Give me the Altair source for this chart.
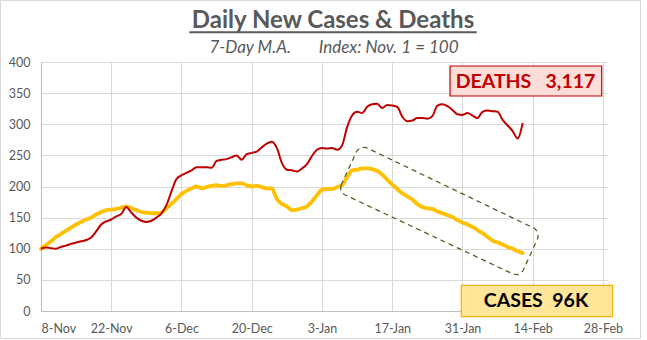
import altair as alt
import pandas as pd

# ---------------- data ----------------
START = "2020-11-08"
deaths = [100, 102, 101, 100, 103, 105, 108, 110, 112, 114,
          118, 128, 139, 144, 147, 152, 156, 167, 158, 150,
          145, 143, 145, 150, 157, 170, 192, 212, 218, 222,
          226, 231, 231, 231, 230, 241, 243, 244, 247, 250,
          243, 252, 254, 256, 263, 269, 272, 262, 238, 227,
          226, 224, 229, 236, 249, 259, 262, 261, 262, 259,
          266, 295, 314, 320, 318, 328, 332, 333, 326, 331,
          330, 328, 312, 305, 306, 310, 310, 309, 313, 330,
          332, 329, 323, 316, 315, 318, 314, 310, 320, 322,
          321, 320, 307, 298, 289, 277, 302]
cases = [100, 106, 112, 119, 124, 129, 134, 139, 143, 147,
         150, 155, 159, 162, 163, 164, 166, 168, 165, 162,
         159, 158, 157, 157, 158, 165, 172, 180, 188, 193,
         197, 200, 197, 199, 201, 202, 201, 202, 204, 205,
         205, 202, 200, 201, 199, 197, 197, 180, 172, 168,
         162, 163, 165, 168, 176, 186, 195, 196, 196, 199,
         202, 215, 226, 227, 229, 229, 228, 225, 219, 211,
         203, 196, 189, 184, 179, 172, 167, 165, 164, 160,
         157, 154, 151, 146, 142, 139, 135, 130, 125, 119,
         113, 110, 107, 103, 100, 96, 93]
dates = pd.date_range(START, periods=len(deaths), freq="D").strftime("%Y-%m-%dT%H:%M").tolist()

x_tick_dates = [(2020, 11, 8), (2020, 11, 22), (2020, 12, 6), (2020, 12, 20),
                (2021, 1, 3), (2021, 1, 17), (2021, 1, 31), (2021, 2, 14), (2021, 2, 28)]
x_domain = [(2020, 11, 8), (2021, 3, 1)]
y_ticks = [0, 50, 100, 150, 200, 250, 300, 350, 400]

# dashed annotation frame around the falling case curve (data coordinates)
box_dates = ["2021-01-06T19:00", "2021-01-09T23:00", "2021-01-10T18:00", "2021-01-11T20:00",
             "2021-02-14T09:00", "2021-02-15T02:00", "2021-02-15T01:00", "2021-02-12T01:00",
             "2021-02-11T06:00", "2021-02-10T05:00", "2021-01-07T10:00", "2021-01-06T17:00",
             "2021-01-06T19:00"]
box_values = [202.1, 257.3, 263.0, 262.5, 132.6, 126.2, 117.6, 64.3, 58.4, 58.9, 187.2, 193.6, 202.1]

NB = "\u00a0"
title_text = "Daily New Cases & Deaths"
subtitle_text = "7-Day M.A." + NB * 7 + "Index: Nov. 1 = 100"
deaths_label = "DEATHS" + NB * 3 + "3,117"
cases_label = "CASES" + NB * 2 + "96K"

# ---------------- chart ----------------
W, H = 567, 249
FONT = "Lato"
GRAY = "#595959"

df = pd.DataFrame({"date": dates, "deaths": deaths, "cases": cases})
box_df = pd.DataFrame({"date": box_dates, "v": box_values, "o": list(range(len(box_dates)))})
one = pd.DataFrame({"k": [0]})


def dt(t):
    return alt.DateTime(year=t[0], month=t[1], date=t[2])


x_scale = alt.Scale(domain=[dt(t) for t in x_domain], nice=False)
x_axis = alt.Axis(values=[dt(t) for t in x_tick_dates], format="%-d-%b", title=None,
                  grid=True, gridColor="#D9D9D9", ticks=False, tickSize=0,
                  domainColor="#BFBFBF", labelColor=GRAY, labelFont=FONT,
                  labelFontSize=12.5, labelPadding=11, labelFontWeight="normal")
y_scale = alt.Scale(domain=[0, 400], nice=False)
y_axis = alt.Axis(values=y_ticks, title=None, grid=True, gridColor="#D9D9D9",
                  ticks=False, tickSize=0, domainColor="#BFBFBF", labelColor=GRAY,
                  labelFont=FONT, labelFontSize=12.5, labelPadding=11)


def X():
    return alt.X("date:T", scale=x_scale, axis=x_axis)


def Y(field):
    return alt.Y(f"{field}:Q", scale=y_scale, axis=y_axis)


border = alt.Chart(one).mark_rect(fillOpacity=0, stroke="#D9D9D9", strokeWidth=1).encode(
    x=alt.value(-40.5), x2=alt.value(599.5), y=alt.value(-61.5), y2=alt.value(276.5))

cases_line = alt.Chart(df).mark_line(color="#FFC000", strokeWidth=3.8, interpolate="monotone",
                                     strokeCap="round", strokeJoin="round").encode(x=X(), y=Y("cases"))
deaths_line = alt.Chart(df).mark_line(color="#C00000", strokeWidth=2, interpolate="monotone",
                                      strokeJoin="round").encode(x=X(), y=Y("deaths"))
frame = alt.Chart(box_df).mark_line(color="#4F6228", strokeWidth=1.3, strokeDash=[5, 4]).encode(
    x=X(), y=Y("v"), order="o:Q")

deaths_box = alt.Chart(one).mark_rect(fill="#FDDDD8", stroke="#C00000", strokeWidth=1.2).encode(
    x=alt.value(409), x2=alt.value(560.7), y=alt.value(4), y2=alt.value(34))
deaths_txt = alt.Chart(one).mark_text(text=deaths_label, font=FONT, fontWeight="bold", fontSize=19.5,
                                      color="#C00000", align="center", baseline="middle").encode(
    x=alt.value(484.5), y=alt.value(19.5))
cases_box = alt.Chart(one).mark_rect(fill="#FFE699", stroke="#EDB100", strokeWidth=1.2).encode(
    x=alt.value(420.3), x2=alt.value(571.7), y=alt.value(223.3), y2=alt.value(254.7))
cases_txt = alt.Chart(one).mark_text(text=cases_label, font=FONT, fontWeight="bold", fontSize=19.5,
                                     color="#000000", align="center", baseline="middle").encode(
    x=alt.value(495), y=alt.value(238.8))

title = alt.Chart(one).mark_text(text=title_text, font=FONT, fontWeight="bold", fontSize=24,
                                 color=GRAY, align="center", baseline="alphabetic").encode(
    x=alt.value(292), y=alt.value(-33.7))
underline = alt.Chart(one).mark_rule(color=GRAY, strokeWidth=2).encode(
    x=alt.value(148.3), x2=alt.value(435.7), y=alt.value(-29.7))
subtitle = alt.Chart(one).mark_text(text=subtitle_text, font=FONT, fontStyle="italic", fontSize=17,
                                    color=GRAY, align="center", baseline="alphabetic").encode(
    x=alt.value(293), y=alt.value(-8.7))

chart = alt.layer(
    border, cases_line, deaths_line, frame, deaths_box, deaths_txt, cases_box, cases_txt,
    title, underline, subtitle
).properties(
    width=W, height=H,
    autosize=alt.AutoSizeParams(type="none"),
    padding={"left": 41, "top": 62, "right": 39, "bottom": 29},
    background="white",
).configure_view(strokeWidth=0)

chart.save("out.html", embed_options={"renderer": "svg", "actions": False})
